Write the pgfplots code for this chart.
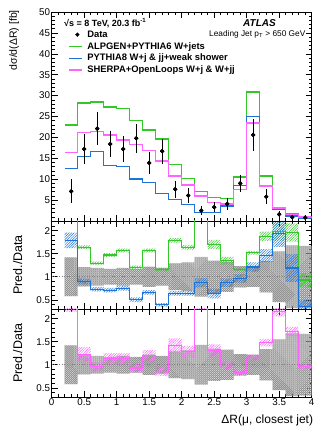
\documentclass[border=0pt]{standalone}
\usepackage{fontspec}
\setmainfont{Liberation Sans}
\usepackage{pgfplots}
\usepackage{pgfplotstable}
\pgfplotsset{compat=1.18}
\usepgfplotslibrary{fillbetween}
\usetikzlibrary{patterns.meta}

\definecolor{cgreen}{RGB}{50,200,40}
\definecolor{cblue}{RGB}{30,115,215}
\definecolor{cpink}{RGB}{255,100,255}

% data points: bin centre, value, error
\pgfplotstableread{
x   d    e
0.3 7.1  2.9
0.5 17.2 3.6
0.7 22.1 3.9
0.9 18.4 3.1
1.1 17.2 3.2
1.3 19.8 3.5
1.5 13.9 2.6
1.7 16.7 3.0
1.9 7.6  2.0
2.1 6.1  1.9
2.3 2.5  1.1
2.5 3.3  1.2
2.7 4.1  1.35
2.9 9.0  2.0
3.1 20.6 3.8
3.3 5.8  1.8
3.5 1.6  0.9
3.7 0.9  0.6
3.9 0.8  0.55
}\datatab

% predictions: left bin edge, ALPGEN, PYTHIA8, SHERPA
\pgfplotstableread{
x   g    b    s
0.2 23.0 12.5 16.4
0.4 28.2 15.5 21.1
0.6 28.5 16.6 21.4
0.8 27.3 13.3 20.6
1.0 26.9 13.0 19.4
1.2 24.0 10.0 18.3
1.4 21.8 9.2  16.8
1.6 19.6 6.6  14.4
1.8 13.5 5.2  10.8
2.0 10.1 4.0  8.6
2.2 7.1  2.1  6.0
2.4 5.6  2.1  4.4
2.6 5.4  3.6  4.1
2.8 10.5 8.5  7.6
3.0 30.9 25.0 23.4
3.2 10.8 8.5  8.4
3.4 2.9  2.9  3.1
3.6 1.7  1.2  1.6
3.8 0.9  0.7  1.0
4.0 0.9  0.7  1.0
}\mctab

% ratios to data: left bin edge, value and band half-width
\pgfplotstableread{
x   g    ge   b    be   s    se   de
0.2 3.2  0.05 1.79 0.17 2.3  0.15 0.42
0.4 1.64 0.04 0.90 0.06 1.23 0.15 0.21
0.6 1.29 0.04 0.73 0.05 0.96 0.10 0.19
0.8 1.47 0.04 0.71 0.05 1.13 0.12 0.17
1.0 1.57 0.04 0.75 0.05 1.13 0.12 0.19
1.2 1.20 0.04 0.50 0.05 0.93 0.10 0.17
1.4 1.57 0.04 0.66 0.05 1.20 0.12 0.22
1.6 1.16 0.04 0.39 0.04 0.86 0.10 0.19
1.8 1.79 0.05 0.64 0.05 1.42 0.15 0.29
2.0 1.64 0.05 0.64 0.05 1.28 0.13 0.31
2.2 2.8  0.10 0.87 0.10 2.4  0.20 0.43
2.4 1.70 0.10 0.63 0.10 1.31 0.13 0.35
2.6 1.35 0.08 0.87 0.09 0.98 0.08 0.33
2.8 1.16 0.04 0.96 0.09 0.82 0.06 0.23
3.0 1.52 0.04 1.21 0.10 1.16 0.06 0.22
3.2 1.88 0.10 1.46 0.14 1.48 0.08 0.34
3.4 1.98 0.20 1.93 0.28 2.15 0.10 0.55
3.6 1.96 0.20 1.19 0.30 1.72 0.10 0.68
3.8 0.93 0.15 0.35 0.15 0.96 0.06 0.67
4.0 0.93 0.15 0.35 0.15 0.96 0.06 0.67
}\ratiotab

\pgfplotsset{
  atlas/.style={
    scale only axis, width=260pt, xmin=0, xmax=4,
    xtick={0,0.5,...,4}, minor x tick num=4,
    tick align=inside, major tick length=6pt, minor tick length=3pt,
    tick style={black, line width=0.5pt}, axis line style={line width=0.6pt},
    tick label style={font=\fontsize{9.8}{10}\selectfont},
    xticklabel style={inner sep=1pt, yshift=-0.5pt},
    yticklabel style={inner sep=1.5pt},
    /pgf/number format/assume math mode=true,
  },
  ratio/.style={
    atlas, height=88pt, ymin=0.3, ymax=2.21,
    ytick={0.5,1,1.5,2}, minor ytick={0.3,0.4,...,2.2},
    ylabel={Pred./Data},
    ylabel style={font=\fontsize{12.5}{14}\selectfont, inner sep=0pt,
      at={(axis description cs:-0.149,0.5)}, anchor=north},
  },
  band/.style={draw=none, forget plot, pattern={Lines[angle=45,distance=1.8pt,line width=0.5pt]}, pattern color=#1},
  greyband/.style={draw=none, forget plot, pattern={Hatch[angle=45,distance=1.4pt,line width=0.7pt]}, pattern color=gray!85},
  shortline/.style={legend image code/.code={\draw[##1] (0cm,0cm) -- (0.45cm,0cm);}},
}

\begin{document}
\begin{tikzpicture}

% main panel
\begin{axis}[atlas, at={(51.7pt,221pt)}, anchor=south west, height=209pt,
  ymin=0, ymax=50, ytick={5,10,...,50}, minor ytick={1,2,...,49},
  xticklabels={},
  ylabel={dσ/d(ΔR) [fb]},
  ylabel style={font=\fontsize{10.5}{12}\selectfont, inner sep=0pt,
    at={(axis description cs:-0.164,1.01)}, anchor=north east},
  legend style={at={(axis cs:0.25,46.1)}, anchor=north west,
    draw=none, fill=none, inner sep=0pt, row sep=-0.5pt,
    font=\bfseries\fontsize{9.4}{11}\selectfont},
  legend cell align=left,
  /tikz/every odd column/.append style={column sep=3pt},
  /tikz/every even column/.append style={column sep=0pt},
]
\addplot[only marks, mark=*, mark size=1.9pt, black,
  error bars/.cd, y dir=both, y explicit, error mark=none,
  error bar style={line width=0.8pt}]
  table[x=x,y=d,y error=e]{\datatab};
\addlegendentry{\vphantom{Ajy}Data}
\addplot[shortline, const plot, color=cgreen, line width=1.4pt] table[x=x,y=g]{\mctab};
\addlegendentry{\vphantom{Ajy}ALPGEN+PYTHIA6 W+jets}
\addplot[shortline, const plot, color=cblue, line width=1.4pt] table[x=x,y=b]{\mctab};
\addlegendentry{\vphantom{Ajy}PYTHIA8 W+j \& jj+weak shower}
\addplot[shortline, const plot, color=cpink, line width=1.4pt] table[x=x,y=s]{\mctab};
\addlegendentry{\vphantom{Ajy}SHERPA+OpenLoops W+j \& W+jj}
% data drawn again on top of the prediction lines
\addplot[only marks, mark=*, mark size=1.9pt, black, forget plot,
  error bars/.cd, y dir=both, y explicit, error mark=none,
  error bar style={line width=0.8pt}]
  table[x=x,y=d,y error=e]{\datatab};

\node[anchor=west, font=\bfseries\fontsize{9}{10}\selectfont, inner sep=0pt]
  at (axis cs:0.19,47.3) {√s = 8 TeV, 20.3 fb\textsuperscript{-1}};
\node[anchor=east, font=\bfseries\itshape\fontsize{10}{11}\selectfont, inner sep=0pt]
  at (axis cs:3.45,47.3) {ATLAS};
\node[anchor=east, font=\fontsize{8.3}{9}\selectfont, inner sep=0pt]
  at (axis cs:3.905,44.7) {Leading Jet p\textsubscript{T} > 650 GeV};
\end{axis}

% ratio: ALPGEN and PYTHIA8
\begin{axis}[ratio, at={(51.7pt,133pt)}, anchor=south west, xticklabels={}]
\addplot[name path=dlo, draw=none, const plot, forget plot] table[x=x, y expr=1-\thisrow{de}]{\ratiotab};
\addplot[name path=dhi, draw=none, const plot, forget plot] table[x=x, y expr=1+\thisrow{de}]{\ratiotab};
\addplot[greyband] fill between[of=dhi and dlo];
\addplot[gray, dotted, line width=0.5pt, forget plot] coordinates {(0,1) (4,1)};
\addplot[name path=glo, draw=none, const plot, forget plot] table[x=x, y expr=\thisrow{g}-\thisrow{ge}]{\ratiotab};
\addplot[name path=ghi, draw=none, const plot, forget plot] table[x=x, y expr=\thisrow{g}+\thisrow{ge}]{\ratiotab};
\addplot[band=cgreen] fill between[of=ghi and glo];
\addplot[name path=blo, draw=none, const plot, forget plot] table[x=x, y expr=\thisrow{b}-\thisrow{be}]{\ratiotab};
\addplot[name path=bhi, draw=none, const plot, forget plot] table[x=x, y expr=\thisrow{b}+\thisrow{be}]{\ratiotab};
\addplot[band=cblue] fill between[of=bhi and blo];
\addplot[const plot, cgreen, line width=1.2pt, forget plot] table[x=x,y=g]{\ratiotab};
\addplot[const plot, cblue, line width=1.2pt, forget plot] table[x=x,y=b]{\ratiotab};
\end{axis}

% ratio: SHERPA
\begin{axis}[ratio, at={(51.7pt,45pt)}, anchor=south west,
  xlabel={ΔR(μ, closest jet)},
  xlabel style={font=\fontsize{12}{14}\selectfont, inner sep=0pt,
    at={(axis description cs:1.006,-0.2)}, anchor=north east},
]
\addplot[name path=dlo, draw=none, const plot, forget plot] table[x=x, y expr=1-\thisrow{de}]{\ratiotab};
\addplot[name path=dhi, draw=none, const plot, forget plot] table[x=x, y expr=1+\thisrow{de}]{\ratiotab};
\addplot[greyband] fill between[of=dhi and dlo];
\addplot[gray, dotted, line width=0.5pt, forget plot] coordinates {(0,1) (4,1)};
\addplot[name path=slo, draw=none, const plot, forget plot] table[x=x, y expr=\thisrow{s}-\thisrow{se}]{\ratiotab};
\addplot[name path=shi, draw=none, const plot, forget plot] table[x=x, y expr=\thisrow{s}+\thisrow{se}]{\ratiotab};
\addplot[band=cpink] fill between[of=shi and slo];
\addplot[const plot, cpink, line width=1.2pt, forget plot] table[x=x,y=s]{\ratiotab};
\end{axis}

\pgfresetboundingbox
\useasboundingbox (0,0) rectangle (328pt,442pt);
\end{tikzpicture}
\end{document}
